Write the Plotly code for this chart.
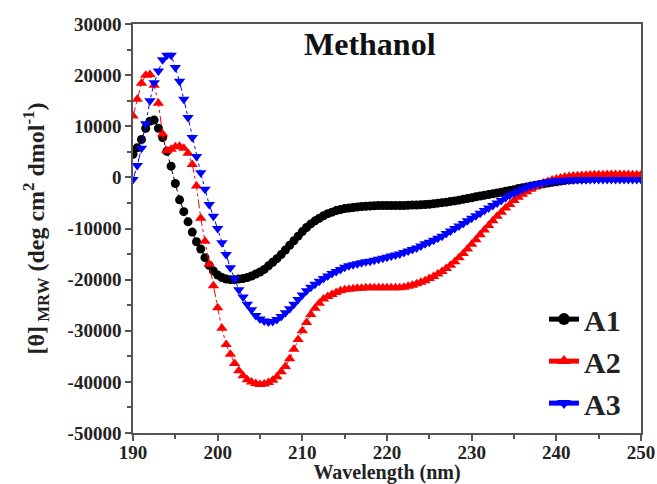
import plotly.graph_objects as go

# Wavelength grid start/step (nm)
wl_start = 190.0
wl_step = 0.5

A1 = [4500, 5800, 7400, 9600, 11000, 11200, 9600, 7800, 5100, 2200,
      -1200, -4400, -6700, -8700, -10700, -12600, -14000, -15700, -17200, -18300,
      -19100, -19600, -19900, -20000, -20000, -19900, -19800, -19600, -19300, -18900,
      -18500, -18000, -17300, -16600, -15900, -15100, -14200, -13300, -12400, -11500,
      -10600, -9800, -9100, -8500, -8000, -7500, -7100, -6800, -6500, -6300,
      -6100, -6000, -5900, -5800, -5700, -5650, -5600, -5550, -5500, -5500,
      -5500, -5500, -5500, -5500, -5500, -5450, -5400, -5400, -5350, -5300,
      -5250, -5150, -5050, -4950, -4850, -4700, -4600, -4450, -4300, -4150,
      -4000, -3800, -3650, -3500, -3350, -3200, -3050, -2900, -2700, -2550,
      -2400, -2200, -2050, -1900, -1700, -1550, -1400, -1250, -1100, -950,
      -850, -700, -600, -500, -400, -330, -270, -210, -160, -120,
      -80, -50, -20, 0, 20, 40, 50, 60, 70, 80,
      80]

A2 = [12000, 15300, 18400, 20000, 20100, 18000, 14500, 8500, 5200, 5500,
      6000, 6100, 5700, 4700, 2500, -1700, -8000, -12500, -17000, -21200,
      -25500, -29500, -32700, -34600, -36400, -37800, -38800, -39600, -40000, -40300,
      -40500, -40400, -40100, -39700, -39000, -38000, -37000, -35500, -33600, -31700,
      -30000, -28400, -26800, -25600, -24600, -23800, -23300, -22900, -22500, -22200,
      -22000, -21900, -21800, -21700, -21700, -21600, -21600, -21600, -21600, -21600,
      -21600, -21600, -21600, -21600, -21500, -21300, -21100, -20800, -20500, -20200,
      -19800, -19400, -18900, -18400, -17800, -17200, -16500, -15700, -14900, -14000,
      -13100, -12200, -11200, -10300, -9400, -8500, -7600, -6800, -6000, -5300,
      -4500, -3900, -3300, -2800, -2300, -1900, -1500, -1100, -800, -500,
      -300, -100, 50, 150, 250, 320, 380, 430, 470, 500,
      520, 530, 540, 540, 540, 540, 540, 540, 530, 520,
      500]

A3 = [-400, 2300, 5700, 10500, 15000, 18500, 20800, 23000, 23900, 23900,
      21500, 18800, 15300, 11700, 7800, 4100, 900, -2300, -5300, -7600,
      -10000, -12800, -15100, -17700, -19900, -22000, -23400, -24800, -25900, -27000,
      -27700, -28100, -28300, -28200, -27800, -27200, -26500, -25700, -24800, -23900,
      -23000, -22200, -21500, -20900, -20300, -19800, -19300, -18800, -18400, -18000,
      -17600, -17300, -17100, -16900, -16700, -16500, -16400, -16200, -16000, -15800,
      -15600, -15400, -15200, -15000, -14700, -14400, -14100, -13800, -13400, -13000,
      -12700, -12300, -11900, -11500, -11000, -10500, -10000, -9500, -9000, -8500,
      -8000, -7500, -7000, -6500, -6000, -5500, -5000, -4500, -4000, -3500,
      -3100, -2700, -2300, -1950, -1650, -1400, -1200, -1000, -850, -750,
      -650, -600, -550, -520, -500, -480, -460, -450, -440, -440,
      -440, -440, -440, -440, -440, -440, -440, -440, -440, -440,
      -440]

series_names = ["A1", "A2", "A3"]
series_colors = ["#000000", "#ff0000", "#0000ff"]
series_symbols = ["circle", "triangle-up", "triangle-down"]
series_sizes = [9, 10, 10]
series_values = [A1, A2, A3]

x_tickvals = [190, 200, 210, 220, 230, 240, 250]
x_ticktext = ["190", "200", "210", "220", "230", "240", "250"]
y_tickvals = [30000, 20000, 10000, 0, -10000, -20000, -30000, -40000, -50000]
y_ticktext = ["30000", "20000", "10000", "0", "-10000", "-20000", "-30000", "-40000", "-50000"]

FONT = "Liberation Serif, Times New Roman, serif"

fig = go.Figure()
for name, col, sym, sz, vals in zip(series_names, series_colors, series_symbols, series_sizes, series_values):
    xs = [wl_start + wl_step * i for i in range(len(vals))]
    fig.add_trace(go.Scatter(
        x=xs, y=vals, mode="lines+markers", name=name, showlegend=False,
        line=dict(color=col, width=1, dash="dashdot"),
        marker=dict(symbol=sym, size=sz, color=col, line=dict(width=0)),
    ))
# legend entries (solid line + marker)
for name, col, sym in zip(series_names, series_colors, series_symbols):
    fig.add_trace(go.Scatter(
        x=[None], y=[None], mode="lines+markers", name=name, showlegend=True,
        line=dict(color=col, width=1),
        marker=dict(symbol=sym, size=9, color=col),
    ))

axis_common = dict(
    showline=True, linecolor="#555555", linewidth=1.5, mirror=True,
    ticks="outside", ticklen=6, tickwidth=1.5, tickcolor="#555555",
    showgrid=False, zeroline=False, automargin=False,
    tickfont=dict(family=FONT, size=19, color="#222222", weight="bold"),
)

fig.update_layout(
    width=657, height=484,
    margin=dict(l=133, r=16, t=24, b=51),
    paper_bgcolor="white", plot_bgcolor="white",
    xaxis=dict(range=[190, 250], tickvals=x_tickvals, ticktext=x_ticktext,
               ticklabelstandoff=-5,
               minor=dict(dtick=5, ticks="outside", ticklen=4, tickcolor="#555555", tickwidth=1.5, tick0=190),
               title=dict(text="Wavelength (nm)", standoff=2,
                          font=dict(family=FONT, size=20, color="#222222", weight="bold")),
               **axis_common),
    yaxis=dict(range=[-50000, 30000], tickvals=y_tickvals, ticktext=y_ticktext,
               minor=dict(dtick=5000, ticks="outside", ticklen=4, tickcolor="#555555", tickwidth=1.5, tick0=0),
               title=dict(text="[θ]<sub> MRW</sub> (deg cm<sup>2</sup> dmol<sup>-1</sup>)", standoff=16,
                          font=dict(family=FONT, size=24, color="#222222", weight="bold")),
               **axis_common),
    legend=dict(x=0.809, y=0.342, xanchor="left", yanchor="top",
                bgcolor="rgba(0,0,0,0)", borderwidth=0,
                font=dict(family=FONT, size=30, color="#222222", weight="bold"),
                tracegroupgap=0, itemsizing="constant"),
    annotations=[dict(text="Methanol", x=0.4665, y=0.95, xref="paper", yref="paper",
                      showarrow=False, xanchor="center", yanchor="middle",
                      font=dict(family=FONT, size=32, color="#111111", weight="bold"))],
)

fig.write_html("out.html")
